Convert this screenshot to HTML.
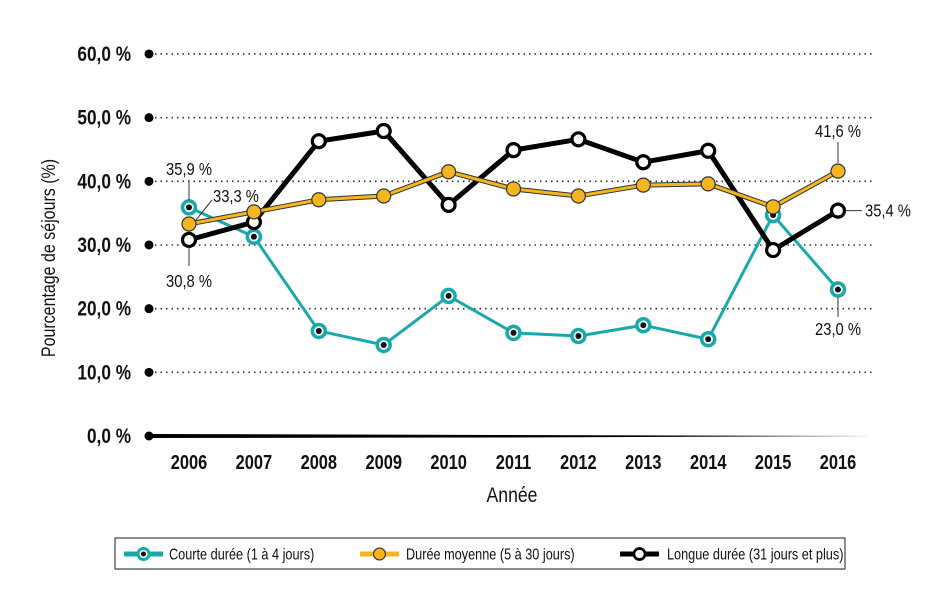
<!DOCTYPE html>
<html><head><meta charset="utf-8"><style>
body{margin:0;background:#fff;width:945px;height:608px;overflow:hidden}
svg text{font-family:"Liberation Sans Narrow","Liberation Sans",sans-serif}
</style></head><body>
<svg id="c" width="945" height="608"></svg>
<script>
const years=["2006","2007","2008","2009","2010","2011","2012","2013","2014","2015","2016"];
const courte=[35.9,31.3,16.5,14.3,22.0,16.2,15.7,17.4,15.2,34.7,23.0];
const moyenne=[33.3,35.2,37.1,37.7,41.5,38.8,37.7,39.4,39.6,36.0,41.6];
const longue=[30.8,33.6,46.3,47.9,36.3,44.9,46.6,43.0,44.8,29.2,35.4];
const yTicks=[0,10,20,30,40,50,60];
const yTickLabels=["0,0 %","10,0 %","20,0 %","30,0 %","40,0 %","50,0 %","60,0 %"];
const NS="http://www.w3.org/2000/svg";
const svg=document.getElementById('c');
const X=i=>189+i*64.9;
const Y=v=>436-v*6.367;
const SX=0.82;
function el(t,a,p){const e=document.createElementNS(NS,t);for(const k in a)e.setAttribute(k,a[k]);(p||svg).appendChild(e);return e;}
function tx(x,y,s,opt,p){const g=el('g',{transform:`translate(${x},${y}) scale(${SX},1)`},p);const e=el('text',Object.assign({x:0,y:0,'font-size':18,fill:'#111'},opt||{}),g);e.textContent=s;return e;}
yTicks.forEach((v,i)=>{
 if(v>0){const g=el('line',{x1:155,x2:875,y1:Y(v),y2:Y(v),stroke:'#333','stroke-width':1.6,'stroke-dasharray':'1.5 4'});
 
 }
 const d=el('circle',{cx:149,cy:Y(v),r:4.5,fill:'#000'});
 
 
 const t=tx(131,Y(v)+7,yTickLabels[i],{'text-anchor':'end','font-weight':'bold','font-size':21});
 
 
});
const ax=el('polygon',{points:`149,434 500,435 875,436 500,437.5 149,438`,fill:'#000'});


years.forEach((y,i)=>{const t=tx(X(i),469,y,{'text-anchor':'middle','font-weight':'bold','font-size':20});
 
 });
const xt=tx(512,502,"Année",{'text-anchor':'middle','font-size':21.5});


const yg=el('g',{transform:'translate(55,258) rotate(-90) scale(0.82,1)'});
const yt=el('text',{x:0,y:0,'text-anchor':'middle','font-size':19.5,fill:'#111'},yg);
yt.textContent="Pourcentage de séjours (%)";


function marker(g,x,y,k,s){s=s||1;
 if(k==0){el('circle',{cx:x,cy:y,r:6.5*s,fill:'#fff',stroke:'#1aa9ab','stroke-width':3.5*s},g);el('circle',{cx:x,cy:y,r:3*s,fill:'#111'},g);}
 else if(k==1){el('circle',{cx:x,cy:y,r:7*s,fill:'#f5b51c',stroke:'#333','stroke-width':1.2},g);}
 else{el('circle',{cx:x,cy:y,r:6.5*s,fill:'#fff',stroke:'#000','stroke-width':3.2*s},g);}
}
const series=[[courte,'#1aa9ab',3,'series-courte'],[longue,'#000',5,'series-longue'],[moyenne,'#f5b51c',3,'series-moyenne']];
const kind={'series-courte':0,'series-moyenne':1,'series-longue':2};
series.forEach(([d,c,w,n])=>{
 const g=el('g',{});
 
 
 if(n=='series-moyenne'){el('polyline',{points:d.map((v,i)=>X(i)+','+Y(v)).join(' '),fill:'none',stroke:'#333','stroke-width':w+2,'stroke-linejoin':'round'},g);}
 el('polyline',{points:d.map((v,i)=>X(i)+','+Y(v)).join(' '),fill:'none',stroke:c,'stroke-width':w,'stroke-linejoin':'round'},g);
 d.forEach((v,i)=>marker(g,X(i),Y(v),kind[n]));
});
function lead(x1,y1,x2,y2){el('line',{x1,y1,x2,y2,stroke:'#333','stroke-width':1});}
lead(189,180,189,Y(courte[0])-7);tx(189,175,"35,9 %",{'text-anchor':'middle'});
lead(196,Y(moyenne[0])-4,212,200);tx(213,202,"33,3 %");
lead(189,Y(longue[0])+7,189,266);tx(189,287,"30,8 %",{'text-anchor':'middle'});
lead(838,Y(moyenne[10])-8,838,142);tx(838,137,"41,6 %",{'text-anchor':'middle'});
lead(846,Y(longue[10]),862,Y(longue[10]));tx(865,Y(longue[10])+6,"35,4 %");
lead(838,Y(courte[10])+8,838,317);tx(838,335,"23,0 %",{'text-anchor':'middle'});
const lg=el('g',{});


el('rect',{x:115,y:538,width:730,height:31,fill:'#fff',stroke:'#444','stroke-width':1.2},lg);
[[124,169,'#1aa9ab',0,"Courte durée (1 à 4 jours)"],[360,406,'#f5b51c',1,"Durée moyenne (5 à 30 jours)"],[620,667,'#000',2,"Longue durée (31 jours et plus)"]].forEach(([x0,tx0,c,k,s])=>{
 const g=el('g',{},lg);
 
 
 el('line',{x1:x0,x2:x0+39,y1:554,y2:554,stroke:c,'stroke-width':5},g);
 if(k==1)el('line',{x1:x0,x2:x0+39,y1:554,y2:554,stroke:c,'stroke-width':5},g);
 marker(g,x0+19.5,554,k,0.85);
 tx(tx0,559.5,s,{'font-size':15.5},g);
});
</script>
</body></html>
